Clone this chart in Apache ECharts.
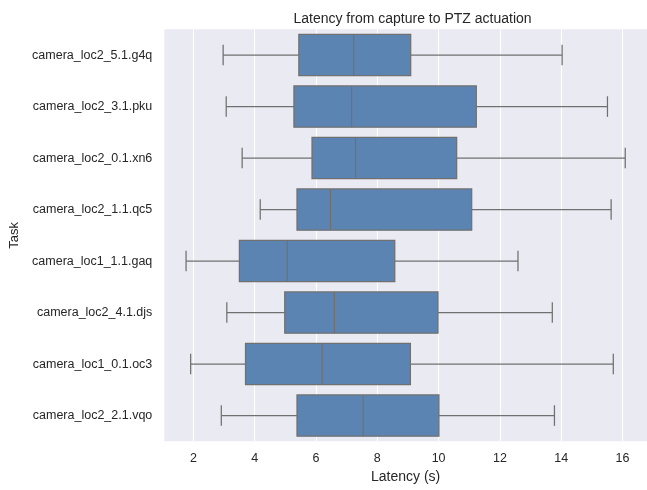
<!DOCTYPE html>
<html>
<head>
<meta charset="utf-8">
<script src="https://cdn.jsdelivr.net/npm/echarts@6/dist/echarts.min.js"></script>
<style>
  html, body { margin: 0; padding: 0; background: #ffffff; }
  #chart { width: 647px; height: 490px; }
</style>
</head>
<body>
<div id="chart"></div>
<script>
// Tasks, listed top to bottom
const tasks = [
  'camera_loc2_5.1.g4q',
  'camera_loc2_3.1.pku',
  'camera_loc2_0.1.xn6',
  'camera_loc2_1.1.qc5',
  'camera_loc1_1.1.gaq',
  'camera_loc2_4.1.djs',
  'camera_loc1_0.1.oc3',
  'camera_loc2_2.1.vqo'
];

// Five-number summaries per task (seconds)
const whiskerLow = [2.97, 3.07, 3.59, 4.18, 1.76, 3.09, 1.91, 2.91];
const quartile1  = [5.44, 5.28, 5.87, 5.38, 3.50, 4.98, 3.70, 5.38];
const median     = [7.23, 7.16, 7.29, 6.47, 5.06, 6.60, 6.20, 7.54];
const quartile3  = [9.09, 11.23, 10.59, 11.08, 8.57, 9.98, 9.08, 10.01];
const whiskerHigh = [14.03, 15.51, 16.09, 15.63, 12.59, 13.71, 15.70, 13.78];

const xTicks = [2, 4, 6, 8, 10, 12, 14, 16];

const boxData = tasks.map((t, i) => [i, whiskerLow[i], quartile1[i], median[i], quartile3[i], whiskerHigh[i]]);

const FILL = '#5c84b2';
const EDGE = '#707070';
const TEXT = '#262626';
const FONT = 'Liberation Sans, Arial, sans-serif';

const chart = echarts.init(document.getElementById('chart'), null, { renderer: 'canvas' });

function renderBox(params, api) {
  const ci = api.value(0);
  const band = api.size([0, 1])[1];
  const h = band * 0.8;
  const cap = h / 2;
  const pLo = api.coord([api.value(1), ci]);
  const pQ1 = api.coord([api.value(2), ci]);
  const pMd = api.coord([api.value(3), ci]);
  const pQ3 = api.coord([api.value(4), ci]);
  const pHi = api.coord([api.value(5), ci]);
  const y = pLo[1];
  const lineStyle = { stroke: EDGE, lineWidth: 1.25, fill: null };
  return {
    type: 'group',
    children: [
      { type: 'line', shape: { x1: pLo[0], y1: y, x2: pQ1[0], y2: y }, style: lineStyle },
      { type: 'line', shape: { x1: pQ3[0], y1: y, x2: pHi[0], y2: y }, style: lineStyle },
      { type: 'line', shape: { x1: pLo[0], y1: y - cap / 2, x2: pLo[0], y2: y + cap / 2 }, style: lineStyle },
      { type: 'line', shape: { x1: pHi[0], y1: y - cap / 2, x2: pHi[0], y2: y + cap / 2 }, style: lineStyle },
      { type: 'rect', shape: { x: pQ1[0], y: y - h / 2, width: pQ3[0] - pQ1[0], height: h },
        style: { fill: FILL, stroke: EDGE, lineWidth: 1.25 } },
      { type: 'line', shape: { x1: pMd[0], y1: y - h / 2, x2: pMd[0], y2: y + h / 2 }, style: lineStyle }
    ]
  };
}

chart.setOption({
  animation: false,
  backgroundColor: '#ffffff',
  title: {
    text: 'Latency from capture to PTZ actuation',
    left: 407.5,
    top: 7,
    textAlign: 'center',
    textStyle: { fontFamily: FONT, fontSize: 14, fontWeight: 'normal', color: TEXT }
  },
  grid: {
    left: 164.3,
    top: 29.3,
    width: 486.4,
    height: 412,
    show: true,
    backgroundColor: '#eaeaf2',
    borderWidth: 0
  },
  xAxis: {
    type: 'value',
    min: 1.05,
    max: 16.8,
    name: 'Latency (s)',
    nameLocation: 'middle',
    nameGap: 29,
    nameTextStyle: { fontFamily: FONT, fontSize: 14, color: TEXT },
    axisLine: { show: false },
    axisTick: { show: false, customValues: xTicks },
    axisLabel: {
      fontFamily: FONT, fontSize: 12.5, color: TEXT, margin: 11,
      customValues: xTicks
    },
    splitLine: { show: true, lineStyle: { color: '#ffffff', width: 1.1 } }
  },
  yAxis: {
    type: 'category',
    data: tasks,
    inverse: true,
    name: 'Task',
    nameLocation: 'middle',
    nameGap: 141.6,
    nameTextStyle: { fontFamily: FONT, fontSize: 13, color: TEXT },
    axisLine: { show: false },
    axisTick: { show: false },
    axisLabel: { fontFamily: FONT, fontSize: 12.5, color: TEXT, margin: 12 },
    splitLine: { show: false }
  },
  series: [{
    type: 'custom',
    renderItem: renderBox,
    encode: { x: [1, 2, 3, 4, 5], y: 0 },
    data: boxData,
    clip: false
  }]
});
</script>
</body>
</html>
